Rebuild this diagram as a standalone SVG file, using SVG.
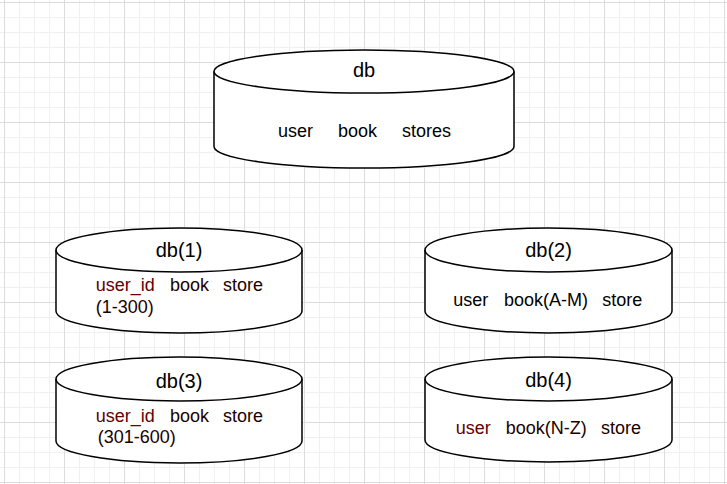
<svg xmlns="http://www.w3.org/2000/svg" width="727" height="484" viewBox="0 0 727 484">
  <defs>
    <pattern id="minor" x="4" y="2" width="15" height="15" patternUnits="userSpaceOnUse">
      <path d="M0.5,0 V15 M0,0.5 H15" stroke="#f0f0f0" stroke-width="1" fill="none"/>
    </pattern>
    <pattern id="major" x="4" y="2" width="60" height="60" patternUnits="userSpaceOnUse">
      <path d="M0.5,0 V60 M0,0.5 H60" stroke="#dcdcdc" stroke-width="1" fill="none"/>
    </pattern>
  </defs>
  <style>
    .cyl { fill: #ffffff; stroke: #000000; stroke-width: 1.5; }
    .rim { fill: none; stroke: #000000; stroke-width: 1.5; }
    .title { font-family: "Liberation Sans", Arial, sans-serif; font-size: 20px; fill: #000000; text-anchor: middle; }
    .body { font-family: "Liberation Sans", Arial, sans-serif; font-size: 18px; fill: #000000; }
    .red { fill: #660000; }
    .dark { fill: #1a0000; }
  </style>
  <rect x="0" y="0" width="727" height="484" fill="#ffffff"/>
  <rect x="0" y="0" width="727" height="484" fill="url(#minor)"/>
  <rect x="0" y="0" width="727" height="484" fill="url(#major)"/>

  <g id="connectors"></g>

  <g id="db">
    <path class="cyl" d="M214,71.5 A150,21.5 0 0 1 514,71.5 L514,146.5 A150,21.5 0 0 1 214,146.5 Z"/>
    <path class="rim" d="M214,71.5 A150,21.5 0 0 0 514,71.5"/>
    <text class="title" x="364" y="77">db</text>
    <text class="body" y="137"><tspan x="278">user</tspan><tspan x="338">book</tspan><tspan x="402">stores</tspan></text>
  </g>

  <g id="db1">
    <path class="cyl" d="M56,250 A123,22 0 0 1 302,250 L302,311 A123,22 0 0 1 56,311 Z"/>
    <path class="rim" d="M56,250 A123,22 0 0 0 302,250"/>
    <text class="title" x="179" y="257">db(1)</text>
    <text class="body" y="291"><tspan class="red" x="95.7">user_id</tspan><tspan class="dark" x="170">book</tspan><tspan class="dark" x="223">store</tspan></text>
    <text class="body dark" x="95.7" y="313">(1-300)</text>
  </g>

  <g id="db2">
    <path class="cyl" d="M425,250 A123.5,22 0 0 1 672,250 L672,311 A123.5,22 0 0 1 425,311 Z"/>
    <path class="rim" d="M425,250 A123.5,22 0 0 0 672,250"/>
    <text class="title" x="548.5" y="257">db(2)</text>
    <text class="body" y="306"><tspan x="453.3">user</tspan><tspan x="504">book(A-M)</tspan><tspan x="602.3">store</tspan></text>
  </g>

  <g id="db3">
    <path class="cyl" d="M56,379 A123,22 0 0 1 302,379 L302,441 A123,22 0 0 1 56,441 Z"/>
    <path class="rim" d="M56,379 A123,22 0 0 0 302,379"/>
    <text class="title" x="179" y="388">db(3)</text>
    <text class="body" y="422"><tspan class="red" x="95.7">user_id</tspan><tspan class="dark" x="170">book</tspan><tspan class="dark" x="223">store</tspan></text>
    <text class="body dark" x="97.7" y="443">(301-600)</text>
  </g>

  <g id="db4">
    <path class="cyl" d="M425,379 A123.5,22 0 0 1 672,379 L672,440 A123.5,22 0 0 1 425,440 Z"/>
    <path class="rim" d="M425,379 A123.5,22 0 0 0 672,379"/>
    <text class="title" x="548.5" y="387">db(4)</text>
    <text class="body" y="434"><tspan class="red" x="455.7">user</tspan><tspan class="dark" x="505.7">book(N-Z)</tspan><tspan class="dark" x="601">store</tspan></text>
  </g>
</svg>
